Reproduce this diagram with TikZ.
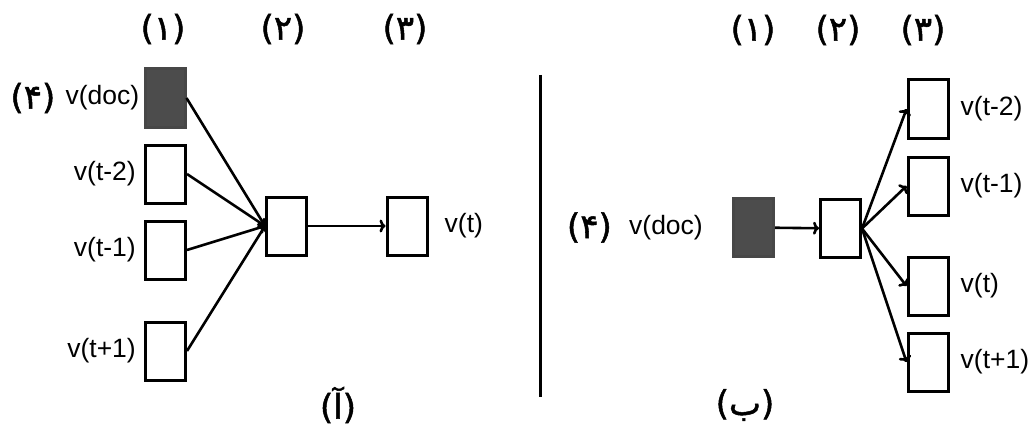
\documentclass[tikz,border=0pt]{standalone}
\usepackage{fontspec}
\setmainfont{Liberation Sans}
\newfontfamily\persianfont[Script=Arabic,FakeBold=1.5]{DejaVu Sans}
\TeXXeTstate=1
\usepackage{tikz}
\usetikzlibrary{arrows.meta,positioning}

\begin{document}
\begin{tikzpicture}[
  x=1pt, y=-1pt,
  cell/.style={draw, line width=3pt, minimum width=40pt, minimum height=58pt, inner sep=0pt},
  doccell/.style={cell, draw=black!72, fill=black!70},
  word/.style={font=\fontsize{26.5}{30}\selectfont, inner sep=0pt},
  tag/.style={font=\persianfont\fontsize{34}{38}\selectfont, inner sep=0pt},
  arrow/.style={-{To[length=6pt,width=13pt,line width=2.6pt]}, line width=2.6pt}
]
\useasboundingbox (0,0) rectangle (1031,428);

% left part
\node[tag] (lone) at (163,29) {(۱)};
\node[tag] (ltwo) at (283,29) {(۲)};
\node[tag] (lthree) at (405,29) {(۳)};

\node[doccell] (ldoc) at (165,98) {};
\node[cell] (lprev2) at (165.5,174) {};
\node[cell] (lprev1) at (165.5,250) {};
\node[cell] (lnext1) at (165.5,351) {};
\node[cell] (lhidden) at (286.5,226) {};
\node[cell] (lword) at (407,226) {};

\node[word, left=4pt of ldoc] (ldoctext) {v(doc)};
\node[tag, left=10pt of ldoctext] (lfour) {(۴)};
\node[word, left=8pt of lprev2] (lprev2text) {v(t-2)};
\node[word, left=8pt of lprev1] (lprev1text) {v(t-1)};
\node[word, left=8pt of lnext1] (lnext1text) {v(t+1)};
\node[word, right=16pt of lword] (lwordtext) {v(t)};

\draw[arrow] (ldoc.east) -- (lhidden.west);
\draw[arrow] (lprev2.east) -- (lhidden.west);
\draw[arrow] (lprev1.east) -- (lhidden.west);
\draw[arrow] (lnext1.east) -- (lhidden.west);
\draw[arrow] (lhidden) -- (lword);

\node[tag] (lcaption) at (338,405) {\beginR(آ)\endR};

% divider
\draw[line width=3pt] (540,75) -- (540,397);

% right part
\node[tag] (rone) at (753,30) {(۱)};
\node[tag] (rtwo) at (838,30) {(۲)};
\node[tag] (rthree) at (923,30) {(۳)};

\node[doccell] (rdoc) at (753.5,227.5) {};
\node[cell] (rhidden) at (840.5,228.5) {};
\node[cell] (rprev2) at (928,109) {};
\node[cell] (rprev1) at (928,186) {};
\node[cell] (rword) at (928,286) {};
\node[cell] (rnext1) at (928,362) {};

\node[word, left=29pt of rdoc] (rdoctext) {v(doc)};
\node[tag, left=17pt of rdoctext] (rfour) {(۴)};
\node[word, right=11pt of rprev2] (rprev2text) {v(t-2)};
\node[word, right=11pt of rprev1] (rprev1text) {v(t-1)};
\node[word, right=11pt of rword] (rwordtext) {v(t)};
\node[word, right=11pt of rnext1] (rnext1text) {v(t+1)};

\draw[arrow] (rdoc) -- (rhidden);
\draw[arrow] (rhidden.east) -- (rprev2.west);
\draw[arrow] (rhidden.east) -- (rprev1.west);
\draw[arrow] (rhidden.east) -- (rword.west);
\draw[arrow] (rhidden.east) -- (rnext1.west);

\node[tag] (rcaption) at (745,405) {\beginR(ب)\endR};
\end{tikzpicture}
\end{document}
